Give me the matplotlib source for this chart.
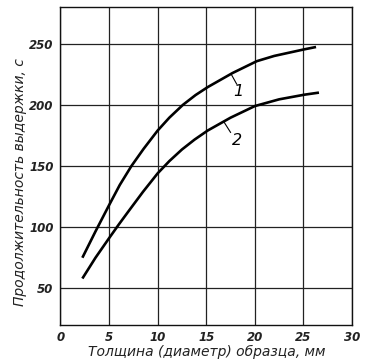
import matplotlib
matplotlib.use("Agg")
import matplotlib.pyplot as plt

# Curve 1
x1 = [2.25, 3.6, 5.0, 6.1, 7.3, 8.55, 10.0, 11.2, 12.6, 13.9, 15.15, 17.7,
      20.2, 22.0, 25.1, 26.3]
y1 = [75, 96.5, 118, 134.5, 150, 164, 179, 189.5, 200, 208, 214.5, 226,
      235.7, 240, 245.4, 247.3]
# Curve 2
x2 = [2.25, 3.6, 5.0, 6.0, 7.0, 8.5, 10.0, 11.2, 12.5, 13.8, 15.15, 17.5,
      20.0, 22.5, 25.1, 26.6]
y2 = [58, 75, 91, 102.2, 113, 129, 144, 154, 163.5, 171.6, 179, 189.5,
      199, 204.5, 208.3, 210]

xticks = [0, 5, 10, 15, 20, 25, 30]
yticks = [50, 100, 150, 200, 250]
xlabel = "Толщина (диаметр) образца, мм"
ylabel = "Продолжительность выдержки, с"
curve_labels = ["1", "2"]

fig = plt.figure(figsize=(3.66, 3.62), dpi=100)
ax = fig.add_axes([60.5/366, 37/362, (352-60.5)/366, (325-7)/362])
ax.set_xlim(0, 30)
ax.set_ylim(20, 280)

ax.grid(True, color="#222222", linewidth=0.9)
ax.set_axisbelow(True)
ax.plot(x1, y1, color="black", linewidth=1.9, solid_capstyle="butt",
        solid_joinstyle="round")
ax.plot(x2, y2, color="black", linewidth=1.9, solid_capstyle="butt",
        solid_joinstyle="round")

# curve labels with leader lines
ax.plot([17.6, 18.13], [224.6, 217], color="black", linewidth=0.8)
ax.text(18.3, 211, curve_labels[0], fontsize=11.5, style="italic",
        ha="center", va="center")
ax.plot([16.8, 17.5], [186.3, 177.5], color="black", linewidth=0.8)
ax.text(18.2, 171, curve_labels[1], fontsize=11.5, style="italic",
        ha="center", va="center")

ax.set_xticks(xticks)
ax.set_yticks(yticks)
ax.tick_params(length=0, labelsize=8.5)
ax.tick_params(axis="x", pad=4)
ax.tick_params(axis="y", pad=5)
for lab in ax.get_xticklabels() + ax.get_yticklabels():
    lab.set_style("italic")
    lab.set_fontweight("bold")
    lab.set_color("#222222")

for s in ax.spines.values():
    s.set_linewidth(1.0)
    s.set_color("#111111")

ax.set_xlabel(xlabel, fontsize=10, style="italic", color="#222222")
ax.xaxis.label.set_va("center")
ax.xaxis.set_label_coords((207 - 60.5) / 291.5, (325 - 352) / 318)
ax.set_ylabel(ylabel, fontsize=10, style="italic", color="#222222")
ax.yaxis.label.set_va("center")
ax.yaxis.set_label_coords((20 - 60.5) / 291.5, (325 - 182) / 318)

fig.savefig("out.png", dpi=100)
